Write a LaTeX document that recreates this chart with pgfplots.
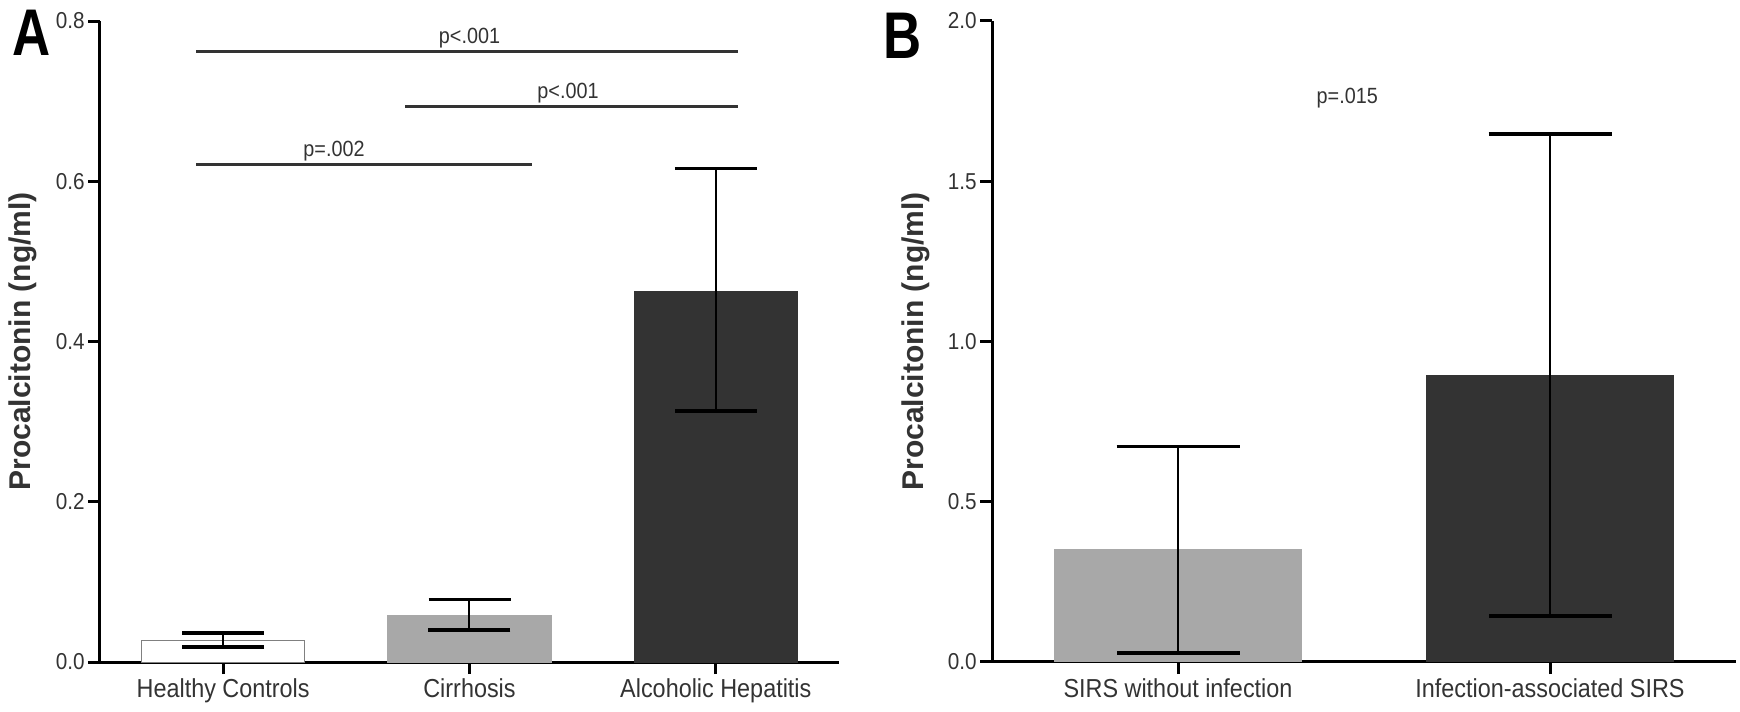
\documentclass[border=0pt]{standalone}
\usepackage{fontspec}
\setmainfont{Liberation Sans}[FakeStretch=0.9]
\newfontfamily\plainfont{Liberation Sans}
\usepackage{pgfplots}
\pgfplotsset{compat=1.18}
\definecolor{txt}{HTML}{333333}
\definecolor{lgray}{HTML}{A8A8A8}
\definecolor{dgray}{HTML}{333333}
\pgfplotsset{
  panel/.style={
    scale only axis, height=320.5pt, ymin=0, clip=false,
    axis x line*=bottom, axis y line*=left,
    axis line style={-, line width=1.5pt, black},
    tick align=outside, major tick length=6pt,
    tick style={line width=1.5pt, black},
    /pgf/number format/assume math mode=true,
    yticklabel style={font=\fontsize{11.5}{12}\selectfont, text=txt, inner sep=1.5pt},
    xticklabel style={font=\fontsize{13}{14}\selectfont, text=txt, inner sep=2pt},
    ylabel style={font=\plainfont\fontsize{15}{16}\selectfont\bfseries, text=txt, anchor=center},
    ylabel={Procalcitonin (ng/ml)},
  },
  mybar/.style={ybar, bar shift=0pt, line width=0.5pt,
    error bars/y dir=both, error bars/y explicit,
    error bars/error bar style={line width=1pt, black},
    error bars/error mark options={rotate=90, mark size=#1, line width=1.8pt, black},
  },
}
\begin{document}
\begin{tikzpicture}
\path[use as bounding box] (-50pt,-25pt) rectangle (820pt,331pt);
% Panel A
\begin{axis}[panel, width=369.5pt, xmin=-0.5, xmax=2.5, ymax=0.8,
  xtick={0,1,2}, xticklabels={Healthy Controls, Cirrhosis, Alcoholic Hepatitis},
  ytick={0,0.2,0.4,0.6,0.8}, yticklabels={0.0,0.2,0.4,0.6,0.8},
  ylabel style={at={(axis description cs:-0.105,0.5)}},
  bar width=81.5pt]
\addplot[mybar=20.5pt, fill=white, draw=gray]
  coordinates {(0,0.027) += (0,0.009) -= (0,0.008)};
\addplot[mybar=20.5pt, fill=lgray, draw=lgray]
  coordinates {(1,0.0585) += (0,0.0195) -= (0,0.0185)};
\addplot[mybar=20.5pt, fill=dgray, draw=dgray]
  coordinates {(2,0.463) += (0,0.153) -= (0,0.150)};
\draw[line width=1.5pt, txt] (axis cs:-0.11,0.762) -- (axis cs:2.09,0.762);
\draw[line width=1.5pt, txt] (axis cs:0.74,0.693) -- (axis cs:2.09,0.693);
\draw[line width=1.5pt, txt] (axis cs:-0.11,0.621) -- (axis cs:1.255,0.621);
\node[anchor=south, inner sep=1.5pt, font=\fontsize{11}{12}\selectfont, text=txt] at (axis cs:1.0,0.762) {p<.001};
\node[anchor=south, inner sep=1.5pt, font=\fontsize{11}{12}\selectfont, text=txt] at (axis cs:1.40,0.693) {p<.001};
\node[anchor=south, inner sep=1.5pt, font=\fontsize{11}{12}\selectfont, text=txt] at (axis cs:0.45,0.621) {p=.002};
\node[font=\plainfont\fontsize{33}{33}\selectfont\bfseries, anchor=center] at (axis description cs:-0.093,0.981) {\scalebox{0.8}[1]{A}};
\end{axis}
% Panel B
\begin{axis}[panel, at={(446pt,0pt)}, width=372pt, xmin=-0.5, xmax=1.5, ymax=2.0,
  xtick={0,1}, xticklabels={SIRS without infection, Infection-associated SIRS},
  ytick={0,0.5,1.0,1.5,2.0}, yticklabels={0.0,0.5,1.0,1.5,2.0},
  ylabel style={at={(axis description cs:-0.102,0.5)}},
  bar width=123.5pt]
\addplot[mybar=30.75pt, fill=lgray, draw=lgray]
  coordinates {(0,0.350) += (0,0.322) -= (0,0.322)};
\addplot[mybar=30.75pt, fill=dgray, draw=dgray]
  coordinates {(1,0.894) += (0,0.753) -= (0,0.750)};
\node[anchor=center, font=\fontsize{11}{12}\selectfont, text=txt] at (axis cs:0.455,1.76) {p=.015};
\node[font=\plainfont\fontsize{33}{33}\selectfont\bfseries, anchor=center] at (axis description cs:-0.12,0.977) {\scalebox{0.8}[1]{B}};
\end{axis}
\end{tikzpicture}
\end{document}
